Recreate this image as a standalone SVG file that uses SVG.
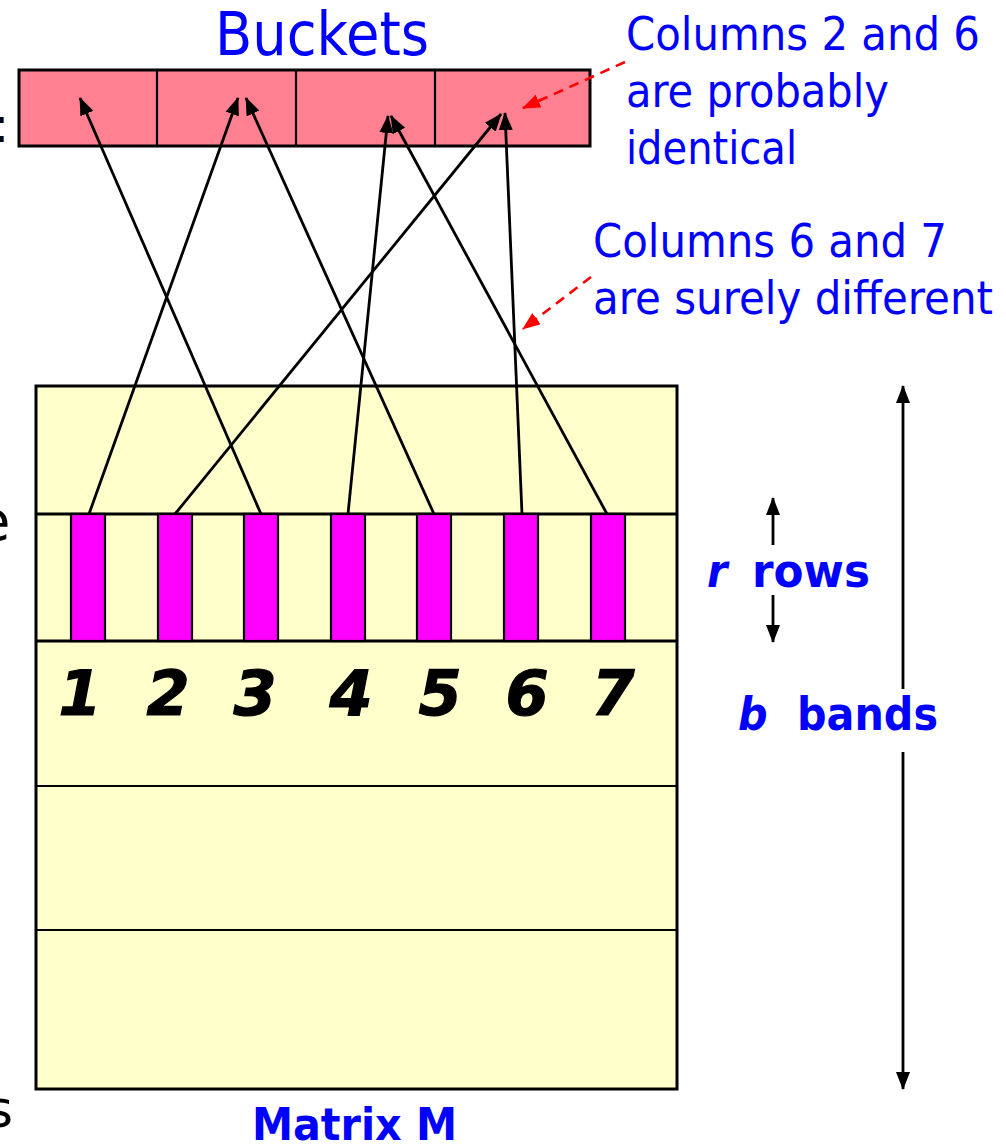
<svg xmlns="http://www.w3.org/2000/svg" width="1006" height="1144" viewBox="0 0 1006 1144">
<style>
.blue{fill:#0000FF;font-family:"DejaVu Sans Condensed","DejaVu Sans",sans-serif}
.bold{font-weight:bold}
.blk{fill:#000;font-family:"DejaVu Sans","Liberation Sans",sans-serif}
.num{fill:#000;stroke:#000;stroke-width:1.2;font-family:"DejaVu Sans",sans-serif;font-weight:bold;font-style:oblique;font-size:62px;text-anchor:middle}
.conn{stroke:#000;stroke-width:2.8;fill:none;marker-end:url(#ah)}
.dash{stroke:#FF0000;stroke-width:2.6;fill:none;stroke-dasharray:10,7;marker-end:url(#rh)}
.col{fill:#FF00FF;stroke:#000;stroke-width:2.2}
</style>
<defs>
<marker id="ah" viewBox="0 0 18 14" refX="17" refY="7" markerWidth="18" markerHeight="14" markerUnits="userSpaceOnUse" orient="auto"><path d="M0,0 L18,7 L0,14 z" fill="#000"/></marker>
<marker id="rh" viewBox="0 0 18 14" refX="17" refY="7" markerWidth="18" markerHeight="14" markerUnits="userSpaceOnUse" orient="auto"><path d="M0,0 L18,7 L0,14 z" fill="#FF0000"/></marker>
</defs>
<rect width="1006" height="1144" fill="#fff"/>
<g id="fragments">
<text class="blk" x="-7" y="142" font-size="48">:</text>
<text class="blk" x="-24" y="540" font-size="56">e</text>
<text class="blk" x="-14" y="1127" font-size="52">s</text>
</g>
<g id="buckets">
<text class="blue" x="215" y="55" font-size="60" textLength="214" lengthAdjust="spacingAndGlyphs">Buckets</text>
<rect x="19" y="70" width="571" height="76" fill="#FF8090" stroke="#000" stroke-width="3"/>
<line x1="157" y1="70" x2="157" y2="146" stroke="#000" stroke-width="2.2"/>
<line x1="296" y1="70" x2="296" y2="146" stroke="#000" stroke-width="2.2"/>
<line x1="435" y1="70" x2="435" y2="146" stroke="#000" stroke-width="2.2"/>
</g>
<g id="matrix">
<rect x="36" y="386" width="641" height="703" fill="#FFFFCC" stroke="#000" stroke-width="3"/>
<line x1="36" y1="514" x2="677" y2="514" stroke="#000" stroke-width="3"/>
<line x1="36" y1="641" x2="677" y2="641" stroke="#000" stroke-width="3"/>
<line x1="36" y1="786" x2="677" y2="786" stroke="#000" stroke-width="2.2"/>
<line x1="36" y1="930" x2="677" y2="930" stroke="#000" stroke-width="2.2"/>
<text class="blue bold" x="252" y="1140" font-size="44" textLength="205" lengthAdjust="spacingAndGlyphs">Matrix M</text>
</g>
<g id="col1"><rect class="col" x="71" y="514" width="34" height="127"/><text class="num" x="80" y="715">1</text></g>
<g id="col2"><rect class="col" x="158" y="514" width="34" height="127"/><text class="num" x="168" y="715">2</text></g>
<g id="col3"><rect class="col" x="244" y="514" width="34" height="127"/><text class="num" x="255" y="715">3</text></g>
<g id="col4"><rect class="col" x="331" y="514" width="34" height="127"/><text class="num" x="351" y="715">4</text></g>
<g id="col5"><rect class="col" x="417" y="514" width="34" height="127"/><text class="num" x="440" y="715">5</text></g>
<g id="col6"><rect class="col" x="504" y="514" width="34" height="127"/><text class="num" x="527" y="715">6</text></g>
<g id="col7"><rect class="col" x="591" y="514" width="34" height="127"/><text class="num" x="613" y="715">7</text></g>
<g id="connectors">
<line class="conn" x1="89" y1="514" x2="238" y2="98"/>
<line class="conn" x1="175" y1="514" x2="501" y2="114"/>
<line class="conn" x1="261" y1="514" x2="80" y2="98"/>
<line class="conn" x1="348" y1="514" x2="388" y2="116"/>
<line class="conn" x1="434" y1="514" x2="246" y2="98"/>
<line class="conn" x1="522" y1="514" x2="505" y2="113"/>
<line class="conn" x1="607" y1="514" x2="391" y2="116"/>
<line class="dash" x1="625" y1="62" x2="523" y2="108"/>
<line class="dash" x1="591" y1="277" x2="523" y2="329"/>
<line class="conn" x1="773" y1="545" x2="773" y2="498"/>
<line class="conn" x1="773" y1="595" x2="773" y2="642"/>
<line class="conn" x1="903" y1="689" x2="903" y2="386"/>
<line class="conn" x1="903" y1="752" x2="903" y2="1089"/>
</g>
<g id="notes">
<text class="blue" x="626" y="50" font-size="47" textLength="354" lengthAdjust="spacingAndGlyphs">Columns 2 and 6</text>
<text class="blue" x="626" y="107" font-size="47" textLength="263" lengthAdjust="spacingAndGlyphs">are probably</text>
<text class="blue" x="626" y="164" font-size="47" textLength="171" lengthAdjust="spacingAndGlyphs">identical</text>
<text class="blue" x="593" y="257" font-size="47" textLength="354" lengthAdjust="spacingAndGlyphs">Columns 6 and 7</text>
<text class="blue" x="593" y="314" font-size="47" textLength="400" lengthAdjust="spacingAndGlyphs">are surely different</text>
</g>
<g id="labels">
<text class="blue bold" x="707" y="587" font-size="46" font-style="italic">r</text>
<text class="blue bold" x="752" y="587" font-size="46" textLength="118" lengthAdjust="spacingAndGlyphs">rows</text>
<text class="blue bold" x="738" y="730" font-size="46" font-style="italic">b</text>
<text class="blue bold" x="797" y="730" font-size="46" textLength="141" lengthAdjust="spacingAndGlyphs">bands</text>
</g>
</svg>
